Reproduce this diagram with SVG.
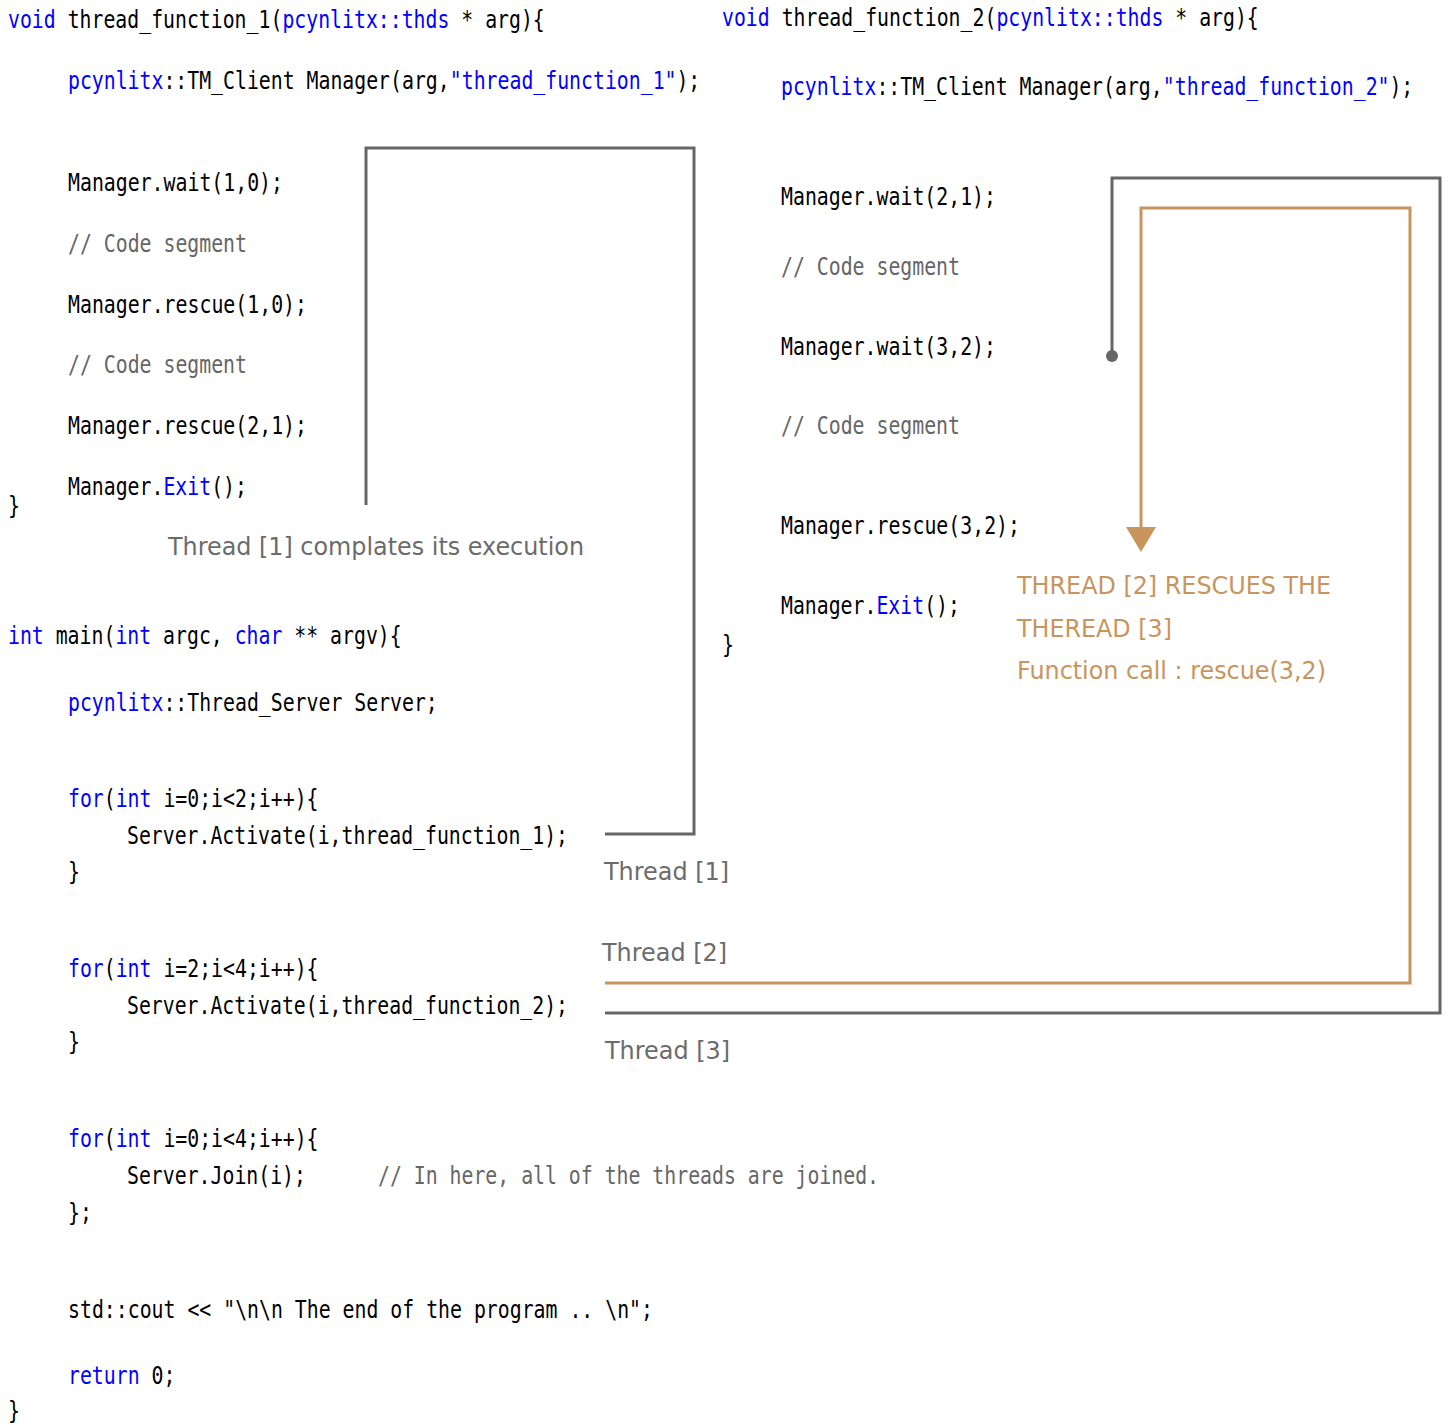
<svg xmlns="http://www.w3.org/2000/svg" width="1451" height="1425" viewBox="0 0 1451 1425">
<style>
.c{font-family:"DejaVu Sans Mono","Liberation Mono",monospace;font-size:25px;fill:#000}
.k{fill:#0000ff}
.cm{fill:#666666}
.lbl{font-family:"DejaVu Sans","Liberation Sans",sans-serif;font-size:24px;fill:#6b6b6b}
.or{font-family:"DejaVu Sans","Liberation Sans",sans-serif;font-size:24px;fill:#c8955f}
.g{fill:none;stroke:#666666;stroke-width:3}
.o{fill:none;stroke:#c8955f;stroke-width:3}
</style>
<defs>
<marker id="arr" viewBox="0 0 25 30" refX="13" refY="15" markerWidth="25" markerHeight="30" markerUnits="userSpaceOnUse" orient="auto">
<path d="M0,0 L25,15 L0,30 Z" fill="#c8955f"/>
</marker>
</defs>
<rect width="1451" height="1425" fill="#ffffff"/>

<g id="thread_function_1">
<text class="c k" x="8" y="28" textLength="47.7" lengthAdjust="spacingAndGlyphs">void</text>
<text class="c" x="67.65" y="28" textLength="214.7" lengthAdjust="spacingAndGlyphs">thread_function_1(</text>
<text class="c k" x="282.4" y="28" textLength="167" lengthAdjust="spacingAndGlyphs">pcynlitx::thds</text>
<text class="c" x="461.3" y="28" textLength="83.5" lengthAdjust="spacingAndGlyphs">* arg){</text>
<text class="c k" x="68" y="89" textLength="95.4" lengthAdjust="spacingAndGlyphs">pcynlitx</text>
<text class="c" x="163.4" y="89" textLength="286.3" lengthAdjust="spacingAndGlyphs">::TM_Client Manager(arg,</text>
<text class="c k" x="449.8" y="89" textLength="226.7" lengthAdjust="spacingAndGlyphs">"thread_function_1"</text>
<text class="c" x="676.4" y="89" textLength="23.9" lengthAdjust="spacingAndGlyphs">);</text>
<text class="c" x="68" y="191" textLength="215" lengthAdjust="spacingAndGlyphs">Manager.wait(1,0);</text>
<text class="c cm" x="68" y="252" textLength="179" lengthAdjust="spacingAndGlyphs">// Code segment</text>
<text class="c" x="68" y="313" textLength="239" lengthAdjust="spacingAndGlyphs">Manager.rescue(1,0);</text>
<text class="c cm" x="68" y="373" textLength="179" lengthAdjust="spacingAndGlyphs">// Code segment</text>
<text class="c" x="68" y="434" textLength="239" lengthAdjust="spacingAndGlyphs">Manager.rescue(2,1);</text>
<text class="c" x="68" y="495" textLength="95.4" lengthAdjust="spacingAndGlyphs">Manager.</text>
<text class="c k" x="163.4" y="495" textLength="47.7" lengthAdjust="spacingAndGlyphs">Exit</text>
<text class="c" x="211.2" y="495" textLength="35.8" lengthAdjust="spacingAndGlyphs">();</text>
<text class="c" x="8" y="514" textLength="12" lengthAdjust="spacingAndGlyphs">}</text>
</g>

<g id="label_thread1_completes">
<text class="lbl" x="168" y="555" textLength="416" lengthAdjust="spacingAndGlyphs">Thread [1] complates its execution</text>
</g>

<g id="main">
<text class="c k" x="8" y="644" textLength="35.8" lengthAdjust="spacingAndGlyphs">int</text>
<text class="c" x="55.7" y="644" textLength="59.65" lengthAdjust="spacingAndGlyphs">main(</text>
<text class="c k" x="115.4" y="644" textLength="35.8" lengthAdjust="spacingAndGlyphs">int</text>
<text class="c" x="163.1" y="644" textLength="59.65" lengthAdjust="spacingAndGlyphs">argc,</text>
<text class="c k" x="234.7" y="644" textLength="47.7" lengthAdjust="spacingAndGlyphs">char</text>
<text class="c" x="294.3" y="644" textLength="107.4" lengthAdjust="spacingAndGlyphs">** argv){</text>

<text class="c k" x="68" y="711" textLength="95.4" lengthAdjust="spacingAndGlyphs">pcynlitx</text>
<text class="c" x="163.4" y="711" textLength="274.4" lengthAdjust="spacingAndGlyphs">::Thread_Server Server;</text>

<text class="c k" x="68" y="807" textLength="35.8" lengthAdjust="spacingAndGlyphs">for</text>
<text class="c" x="103.8" y="807" textLength="11.93" lengthAdjust="spacingAndGlyphs">(</text>
<text class="c k" x="115.7" y="807" textLength="35.8" lengthAdjust="spacingAndGlyphs">int</text>
<text class="c" x="163.4" y="807" textLength="155.1" lengthAdjust="spacingAndGlyphs">i=0;i&lt;2;i++){</text>
<text class="c" x="127" y="844" textLength="441" lengthAdjust="spacingAndGlyphs">Server.Activate(i,thread_function_1);</text>
<text class="c" x="68" y="880" textLength="12" lengthAdjust="spacingAndGlyphs">}</text>

<text class="c k" x="68" y="977" textLength="35.8" lengthAdjust="spacingAndGlyphs">for</text>
<text class="c" x="103.8" y="977" textLength="11.93" lengthAdjust="spacingAndGlyphs">(</text>
<text class="c k" x="115.7" y="977" textLength="35.8" lengthAdjust="spacingAndGlyphs">int</text>
<text class="c" x="163.4" y="977" textLength="155.1" lengthAdjust="spacingAndGlyphs">i=2;i&lt;4;i++){</text>
<text class="c" x="127" y="1014" textLength="441" lengthAdjust="spacingAndGlyphs">Server.Activate(i,thread_function_2);</text>
<text class="c" x="68" y="1050" textLength="12" lengthAdjust="spacingAndGlyphs">}</text>

<text class="c k" x="68" y="1147" textLength="35.8" lengthAdjust="spacingAndGlyphs">for</text>
<text class="c" x="103.8" y="1147" textLength="11.93" lengthAdjust="spacingAndGlyphs">(</text>
<text class="c k" x="115.7" y="1147" textLength="35.8" lengthAdjust="spacingAndGlyphs">int</text>
<text class="c" x="163.4" y="1147" textLength="155.1" lengthAdjust="spacingAndGlyphs">i=0;i&lt;4;i++){</text>
<text class="c" x="127" y="1184" textLength="179" lengthAdjust="spacingAndGlyphs">Server.Join(i);</text>
<text class="c cm" x="378" y="1184" textLength="501" lengthAdjust="spacingAndGlyphs">// In here, all of the threads are joined.</text>
<text class="c" x="68" y="1221" textLength="24" lengthAdjust="spacingAndGlyphs">};</text>

<text class="c" x="68" y="1318" textLength="585" lengthAdjust="spacingAndGlyphs">std::cout &lt;&lt; "\n\n The end of the program .. \n";</text>
<text class="c k" x="68" y="1384" textLength="71.6" lengthAdjust="spacingAndGlyphs">return</text>
<text class="c" x="151.5" y="1384" textLength="23.9" lengthAdjust="spacingAndGlyphs">0;</text>
<text class="c" x="8" y="1419" textLength="12" lengthAdjust="spacingAndGlyphs">}</text>
</g>

<g id="thread_function_2">
<text class="c k" x="722" y="26" textLength="47.7" lengthAdjust="spacingAndGlyphs">void</text>
<text class="c" x="781.65" y="26" textLength="214.7" lengthAdjust="spacingAndGlyphs">thread_function_2(</text>
<text class="c k" x="996.4" y="26" textLength="167" lengthAdjust="spacingAndGlyphs">pcynlitx::thds</text>
<text class="c" x="1175.3" y="26" textLength="83.5" lengthAdjust="spacingAndGlyphs">* arg){</text>
<text class="c k" x="781" y="95" textLength="95.4" lengthAdjust="spacingAndGlyphs">pcynlitx</text>
<text class="c" x="876.4" y="95" textLength="286.3" lengthAdjust="spacingAndGlyphs">::TM_Client Manager(arg,</text>
<text class="c k" x="1162.8" y="95" textLength="226.7" lengthAdjust="spacingAndGlyphs">"thread_function_2"</text>
<text class="c" x="1389.4" y="95" textLength="23.9" lengthAdjust="spacingAndGlyphs">);</text>
<text class="c" x="781" y="205" textLength="215" lengthAdjust="spacingAndGlyphs">Manager.wait(2,1);</text>
<text class="c cm" x="781" y="275" textLength="179" lengthAdjust="spacingAndGlyphs">// Code segment</text>
<text class="c" x="781" y="355" textLength="215" lengthAdjust="spacingAndGlyphs">Manager.wait(3,2);</text>
<text class="c cm" x="781" y="434" textLength="179" lengthAdjust="spacingAndGlyphs">// Code segment</text>
<text class="c" x="781" y="534" textLength="239" lengthAdjust="spacingAndGlyphs">Manager.rescue(3,2);</text>
<text class="c" x="781" y="614" textLength="95.4" lengthAdjust="spacingAndGlyphs">Manager.</text>
<text class="c k" x="876.4" y="614" textLength="47.7" lengthAdjust="spacingAndGlyphs">Exit</text>
<text class="c" x="924.2" y="614" textLength="35.8" lengthAdjust="spacingAndGlyphs">();</text>
<text class="c" x="722" y="653" textLength="12" lengthAdjust="spacingAndGlyphs">}</text>
</g>

<g id="label_rescue">
<text class="or" x="1017" y="594" textLength="314" lengthAdjust="spacingAndGlyphs">THREAD [2] RESCUES THE</text>
<text class="or" x="1017" y="637" textLength="155" lengthAdjust="spacingAndGlyphs">THEREAD [3]</text>
<text class="or" x="1017" y="679" textLength="309" lengthAdjust="spacingAndGlyphs">Function call : rescue(3,2)</text>
</g>

<g id="thread_labels">
<text class="lbl" x="604" y="880" textLength="125" lengthAdjust="spacingAndGlyphs">Thread [1]</text>
<text class="lbl" x="602" y="961" textLength="125" lengthAdjust="spacingAndGlyphs">Thread [2]</text>
<text class="lbl" x="605" y="1059" textLength="125" lengthAdjust="spacingAndGlyphs">Thread [3]</text>
</g>

<g id="connectors">
<path class="g" d="M366,505 V148 H694 V834 H605"/>
<path class="g" d="M1112,356 V178 H1440 V1013 H605"/>
<circle cx="1112" cy="356" r="6" fill="#666666"/>
<path class="o" d="M605,983 H1410 V208 H1141 V540" marker-end="url(#arr)"/>
</g>
</svg>
